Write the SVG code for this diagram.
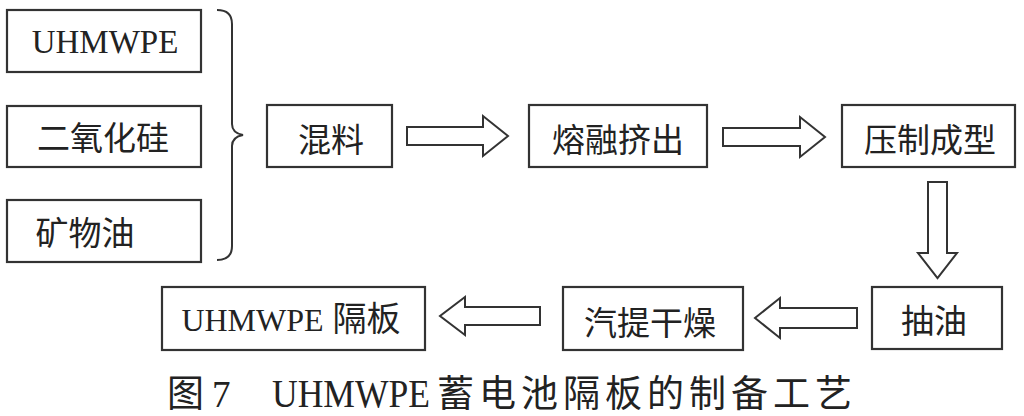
<svg xmlns="http://www.w3.org/2000/svg" width="1024" height="416" viewBox="0 0 1024 416">
<style>
.box{fill:#fff;stroke:#333;stroke-width:2.2}
.arr{fill:#fff;stroke:#333;stroke-width:2;stroke-linejoin:miter}
.t{font-family:"Liberation Serif","Noto Sans CJK SC",serif;font-size:33px;fill:#222;text-anchor:middle}
.cap{font-family:"Liberation Serif","Noto Sans CJK SC",serif;fill:#222;font-size:37px}
</style>
<rect width="1024" height="416" fill="#fff"/>
<g id="n-uhmwpe"><rect class="box" x="7" y="10" width="194" height="62"/><text class="t" x="105" y="53">UHMWPE</text></g>
<g id="n-sio2"><rect class="box" x="7" y="106" width="194" height="61"/><text class="t" x="103" y="150">二氧化硅</text></g>
<g id="n-oil"><rect class="box" x="7" y="200" width="194" height="62"/><text class="t" x="85" y="245">矿物油</text></g>
<g id="n-mix"><rect class="box" x="267" y="105" width="125" height="62"/><text class="t" x="331" y="152" font-size="34">混料</text></g>
<g id="n-melt"><rect class="box" x="529" y="105" width="178" height="62"/><text class="t" x="618" y="152" font-size="34">熔融挤出</text></g>
<g id="n-press"><rect class="box" x="842" y="105" width="173" height="62"/><text class="t" x="930" y="152" font-size="34">压制成型</text></g>
<g id="n-extract"><rect class="box" x="872" y="287" width="130" height="62"/><text class="t" x="934" y="333" font-size="34">抽油</text></g>
<g id="n-dry"><rect class="box" x="563" y="287" width="180" height="63"/><text class="t" x="650" y="335" font-size="34">汽提干燥</text></g>
<g id="n-product"><rect class="box" x="162" y="287" width="263" height="63"/><text class="t" x="291" y="331"><tspan font-size="32">UHMWPE</tspan><tspan font-size="34" dx="9">隔板</tspan></text></g>
<g id="connectors">
<path d="M217,10 Q232,10 232,24 L232,124 Q232,133 243,135 Q232,137 232,146 L232,246 Q232,260 217,260" fill="none" stroke="#333" stroke-width="2"/>
<polygon class="arr" points="407,127 483,127 483,116 508,136 483,156 483,145 407,145"/>
<polygon class="arr" points="723,128 800,128 800,117 825,137 800,157 800,146 723,146"/>
<polygon class="arr" points="928,182 947,182 947,253 957,253 937.5,278 918,253 928,253"/>
<polygon class="arr" points="857,308 780,308 780,298 755,318 780,338 780,328 857,328"/>
<polygon class="arr" points="540,307 465,307 465,297 440,316 465,335 465,325 540,325"/>
</g>
<g id="caption">
<text class="cap" y="407"><tspan x="167">图</tspan><tspan x="212">7</tspan><tspan x="272" font-size="40" textLength="158" lengthAdjust="spacingAndGlyphs">UHMWPE</tspan><tspan x="437" letter-spacing="5">蓄电池隔板的制备工艺</tspan></text>
</g>
</svg>
